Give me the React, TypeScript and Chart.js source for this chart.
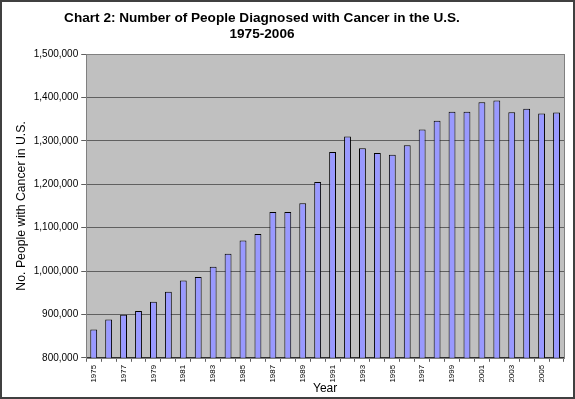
import React, { useEffect, useRef } from 'react';
import { Chart, registerables } from 'chart.js';

Chart.register(...registerables);

const years: string[] = [
  '1975', '1976', '1977', '1978', '1979', '1980', '1981', '1982', '1983', '1984',
  '1985', '1986', '1987', '1988', '1989', '1990', '1991', '1992', '1993', '1994',
  '1995', '1996', '1997', '1998', '1999', '2000', '2001', '2002', '2003', '2004',
  '2005', '2006',
];

const peopleDiagnosed: number[] = [
  865000, 888000, 899000, 908000, 929000, 952000, 978000, 986000, 1010000, 1040000,
  1070000, 1085000, 1136000, 1136000, 1156000, 1205000, 1274000, 1310000, 1283000, 1272000,
  1268000, 1290000, 1326000, 1346000, 1367000, 1367000, 1389000, 1393000, 1366000, 1374000,
  1363000, 1365000,
];

const titleLines: string[] = ['Chart 2: Number of People Diagnosed with Cancer in the U.S.', '1975-2006'];
const yAxisTitle = 'No. People with Cancer in U.S.';
const xAxisTitle = 'Year';
const yMin = 800000;
const yMax = 1500000;
const yStep = 100000;

const FONT = "'Liberation Sans', Arial, Helvetica, sans-serif";

const framePlugin = {
  id: 'framePlugin',
  beforeDraw(chart: any) {
    const { ctx, chartArea } = chart;
    ctx.save();
    ctx.fillStyle = '#ffffff';
    ctx.fillRect(0, 0, chart.width, chart.height);
    ctx.fillStyle = '#C0C0C0';
    ctx.fillRect(chartArea.left, chartArea.top, chartArea.right - chartArea.left, chartArea.bottom - chartArea.top);
    ctx.restore();
  },
  afterDraw(chart: any) {
    const { ctx, chartArea } = chart;
    ctx.save();
    ctx.strokeStyle = '#808080';
    ctx.lineWidth = 1;
    ctx.strokeRect(Math.round(chartArea.left) + 0.5, Math.round(chartArea.top) + 0.5,
      Math.round(chartArea.right - chartArea.left), Math.round(chartArea.bottom - chartArea.top));
    ctx.strokeStyle = '#404040';
    ctx.lineWidth = 2;
    ctx.strokeRect(1, 1, chart.width - 2, chart.height - 2);
    // chart title (centred like the original, slightly left of the canvas centre)
    ctx.fillStyle = '#000000';
    ctx.font = `bold 13.6px ${FONT}`;
    ctx.textAlign = 'center';
    ctx.textBaseline = 'middle';
    ctx.fillText(titleLines[0], 262, 18);
    ctx.fillText(titleLines[1], 262, 34);
    ctx.restore();
  },
};

export default function App() {
  const canvasRef = useRef<HTMLCanvasElement | null>(null);

  useEffect(() => {
    document.body.style.margin = '0';
    const canvas = canvasRef.current;
    if (!canvas) return;
    const chart = new Chart(canvas, {
      type: 'bar',
      data: {
        labels: years,
        datasets: [
          {
            label: 'People diagnosed',
            data: peopleDiagnosed,
            backgroundColor: '#9999FF',
            borderColor: '#000000',
            borderWidth: 1,
            barPercentage: 0.46,
            categoryPercentage: 1,
          },
        ],
      },
      options: {
        animation: false,
        responsive: false,
        devicePixelRatio: 1,
        layout: { padding: { left: 14, right: 11, top: 54, bottom: 0 } },
        plugins: {
          legend: { display: false },
          tooltip: { enabled: false },
          title: { display: false },
        },
        scales: {
          x: {
            grid: {
              display: true,
              drawOnChartArea: false,
              drawTicks: true,
              tickLength: 4,
              color: '#606060',
              offset: true,
            },
            border: { display: true, color: '#303030' },
            ticks: {
              autoSkip: false,
              maxRotation: 90,
              minRotation: 90,
              padding: 3,
              color: '#000000',
              font: { family: FONT, size: 8 },
              callback: (_v: any, i: number) => (i % 2 === 0 ? years[i] : ''),
            },
            title: {
              display: true,
              text: xAxisTitle,
              color: '#000000',
              font: { family: FONT, size: 12 },
              padding: { top: -4, bottom: 3 },
            },
          },
          y: {
            min: yMin,
            max: yMax,
            grid: {
              color: '#606060',
              lineWidth: 1,
              drawTicks: true,
              tickLength: 5,
            },
            border: { display: true, color: '#808080' },
            ticks: {
              stepSize: yStep,
              padding: 3,
              color: '#000000',
              font: { family: FONT, size: 10 },
              callback: (v: any) => Number(v).toLocaleString('en-US'),
            },
            title: {
              display: true,
              text: yAxisTitle,
              color: '#000000',
              font: { family: FONT, size: 12.3 },
              padding: { top: 0, bottom: 2 },
            },
          },
        },
      },
      plugins: [framePlugin],
    });
    return () => chart.destroy();
  }, []);

  return (
    <div style={{ position: 'absolute', left: 0, top: 0, width: 575, height: 399 }}>
      <canvas ref={canvasRef} width={575} height={399} style={{ display: 'block' }} />
    </div>
  );
}
